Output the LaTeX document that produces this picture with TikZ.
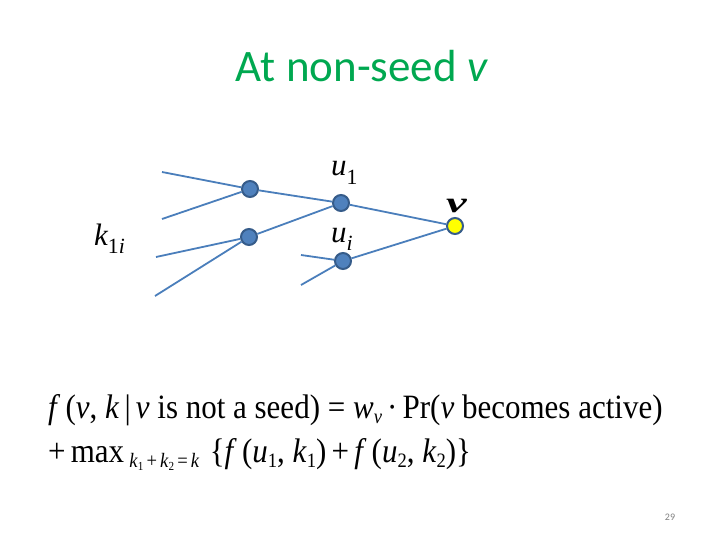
\documentclass[tikz,border=0pt]{standalone}
\usepackage{fontspec}
\setmainfont{Liberation Serif}
\newfontfamily\titlefont{Carlito}
\definecolor{titlegreen}{RGB}{0,168,80}
\definecolor{nodeblue}{RGB}{79,129,189}
\definecolor{nodeborder}{RGB}{54,92,138}
\definecolor{edgeblue}{RGB}{74,126,187}
\definecolor{vyellow}{RGB}{255,255,0}
\newcommand{\lsub}[1]{\raisebox{-0.35ex}{\scalebox{0.6}{#1}}}
\newcommand{\labsub}[1]{\raisebox{-0.6ex}{\scalebox{0.7}{#1}}}
\begin{document}
\begin{tikzpicture}[x=1pt,y=-1pt,
  dot/.style={circle,draw=nodeborder,line width=2pt,fill=nodeblue,minimum size=16pt,inner sep=0pt},
  vdot/.style={dot,fill=vyellow},
  edge/.style={draw=edgeblue,line width=1.8pt},
  lab/.style={font=\fontsize{31}{31}\selectfont\itshape,inner sep=0pt},
  eq/.style={font=\fontsize{31}{31}\selectfont,inner sep=0pt,anchor=base west}]
\useasboundingbox (0,0) rectangle (720,540);
\node[font=\titlefont\fontsize{45}{45}\selectfont,text=titlegreen,anchor=base] (title) at (362,82) {At non-seed \textit{v}};
% nodes
\node[dot] (a) at (250,189) {};
\node[dot] (b) at (249,237) {};
\node[dot] (u1) at (341,203) {};
\node[dot] (ui) at (343,261) {};
\node[vdot] (v) at (455,226) {};
\coordinate (a1) at (162,172);
\coordinate (a2) at (162,219);
\coordinate (b1) at (156,257);
\coordinate (b2) at (155,296);
\coordinate (i1) at (301,255);
\coordinate (i2) at (301,285);
\draw[edge] (a1) -- (a);
\draw[edge] (a2) -- (a);
\draw[edge] (b1) -- (b);
\draw[edge] (b2) -- (b);
\draw[edge] (i1) -- (ui);
\draw[edge] (i2) -- (ui);
\draw[edge] (a) -- (u1);
\draw[edge] (b) -- (u1);
\draw[edge] (u1) -- (v);
\draw[edge] (ui) -- (v);
% labels
\node[lab,anchor=base west] (lu1) at (331,176) {u\labsub{\upshape 1}};
\node[lab,anchor=base west] (lui) at (331,242) {u\labsub{i}};
\node[lab,anchor=base west] (lk) at (94,245) {k\labsub{\upshape 1\itshape i}};
\node[font=\fontsize{29}{29}\selectfont\bfseries\itshape,inner sep=0pt,anchor=base west] (lv) at (446,213) {\scalebox{1.6}[1]{v}};
% equation
\node[eq] (eq1) at (48,418)
 {\scalebox{1}[1.1]{\textit{f}\,(\textit{v}, \textit{k}\,|\,\textit{v} is not a seed) = \textit{w}\lsub{\textit{v}}\,·\,Pr(\textit{v} becomes active)}};
\node[eq] (eq2) at (48,462)
 {\scalebox{1}[1.1]{+\,max\,\lsub{\textit{k}\lsub{1}\,+\,\textit{k}\lsub{2}\,=\,\textit{k}}\,\,\{\textit{f}\,(\textit{u}\lsub{1}, \textit{k}\lsub{1})\,+\,\textit{f}\,(\textit{u}\lsub{2}, \textit{k}\lsub{2})\}}};
\node[font=\titlefont\fontsize{10}{10}\selectfont,text=gray,anchor=base] (pg) at (670,520) {29};
\end{tikzpicture}
\end{document}
